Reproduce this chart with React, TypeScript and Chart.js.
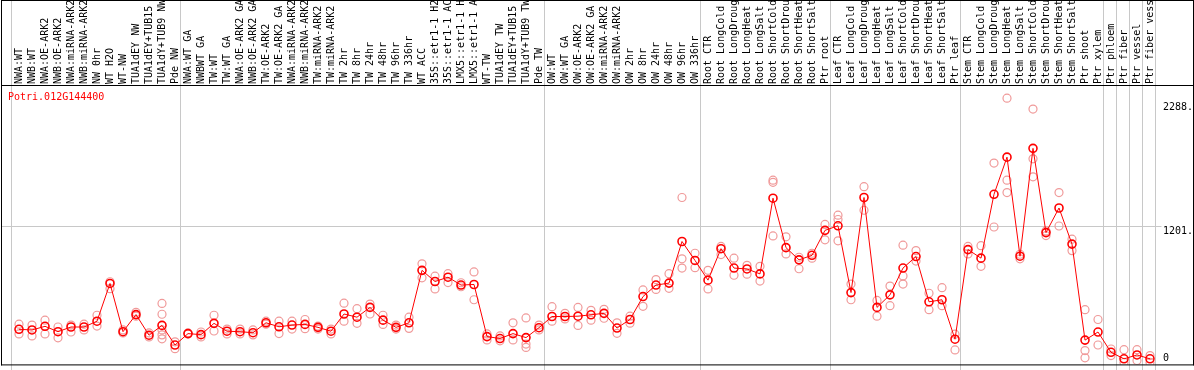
import React, { useEffect, useRef } from "react";
import { Chart, registerables } from "chart.js";

Chart.register(...registerables);

const chartTitle = "Potri.012G144400";

const categories: string[] = [
  "NWA:WT", "NWB:WT", "NWA:OE-ARK2", "NWB:OE-ARK2", "NWA:miRNA-ARK2", "NWB:miRNA-ARK2",
  "NW 0hr", "WT H2O", "WT-NW", "TUA1dEY NW", "TUA1dEY+TUB15 NW", "TUA1dY+TUB9 NW", "Pde NW",
  "NWA:WT GA", "NWBWT GA", "TW:WT", "TW:WT GA", "NWA:OE-ARK2 GA", "NWB:OE-ARK2 GA",
  "TW:OE-ARK2", "TW:OE-ARK2 GA", "NWA:miRNA-ARK2 GA", "NWB:miRNA-ARK2 GA", "TW:miRNA-ARK2",
  "TW:miRNA-ARK2", "TW 2hr", "TW 8hr", "TW 24hr", "TW 48hr", "TW 96hr", "TW 336hr", "WT ACC",
  "35S::etr1-1 H2O", "35S::etr1-1 ACC", "LMX5::etr1-1 H2O", "LMX5::etr1-1 ACC", "WT-TW",
  "TUA1dEY TW", "TUA1dEY+TUB15 TW", "TUA1dY+TUB9 TW", "Pde TW",
  "OW:WT", "OW:WT GA", "OW:OE-ARK2", "OW:OE-ARK2 GA", "OW:miRNA-ARK2", "OW:miRNA-ARK2",
  "OW 2hr", "OW 8hr", "OW 24hr", "OW 48hr", "OW 96hr", "OW 336hr",
  "Root CTR", "Root LongCold", "Root LongDrought", "Root LongHeat", "Root LongSalt",
  "Root ShortCold", "Root ShortDrought", "Root ShortHeat", "Root ShortSalt", "Ptr root",
  "Leaf CTR", "Leaf LongCold", "Leaf LongDrought", "Leaf LongHeat", "Leaf LongSalt",
  "Leaf ShortCold", "Leaf ShortDrought", "Leaf ShortHeat", "Leaf ShortSalt", "Ptr leaf",
  "Stem CTR", "Stem LongCold", "Stem LongDrought", "Stem LongHeat", "Stem LongSalt",
  "Stem ShortCold", "Stem ShortDrought", "Stem ShortHeat", "Stem ShortSalt", "Ptr shoot",
  "Ptr xylem", "Ptr phloem", "Ptr fiber", "Ptr vessel", "Ptr fiber vessel",
];

const means: number[] = [
  291, 285, 317, 270, 311, 311, 362, 693, 270, 420,
  239, 325, 153, 253, 244, 343, 274, 270, 261, 348,
  313, 328, 334, 308, 274, 425, 397, 483, 371, 308,
  348, 808, 710, 748, 679, 684, 227, 210, 253, 218,
  305, 403, 403, 406, 418, 431, 302, 377, 578, 679,
  696, 1061, 895, 722, 998, 828, 820, 777, 1441, 1007,
  900, 940, 1159, 1199, 613, 1447, 483, 593, 828, 929,
  532, 550, 204, 990, 915, 1475, 1801, 932, 1878, 1139,
  1355, 1038, 196, 267, 89, 32, 66, 32,
];

const replicates: number[][] = [
  [336, 250], [328, 233], [371, 250], [311, 216], [328, 267], [336, 285], [414, 319], [708, 647],
  [285, 259], [440, 406], [259, 224], [518, 423, 285, 242, 207], [181, 121], [259, 250], [267, 224],
  [414, 276], [293, 250], [293, 250], [285, 242], [362, 336], [362, 253], [362, 293], [377, 296],
  [319, 293], [293, 250], [520, 362], [472, 343], [512, 425], [414, 334], [328, 293], [397, 299],
  [865, 742], [757, 645], [779, 701], [699, 664], [794, 550], [198, 250], [233, 190], [348, 198],
  [391, 161, 132], [328, 285], [489, 362], [431, 382], [483, 325], [457, 371], [466, 388],
  [348, 256], [406, 345], [636, 492], [727, 641], [779, 650], [1447, 909, 828], [958, 831],
  [808, 645], [1018, 946], [915, 765], [852, 774], [843, 714], [1599, 1580, 1110], [1102, 952],
  [923, 822], [958, 915], [1211, 1076], [1292, 1254, 1067], [688, 550], [1542, 1335], [544, 406],
  [670, 498], [1029, 759, 688], [981, 889], [607, 463], [656, 498], [248, 110], [1018, 952],
  [1024, 843], [1749, 1188], [2318, 1599, 1490], [949, 909], [2223, 1786, 1628], [1154, 1113],
  [1490, 1197], [1081, 981], [463, 104, 41], [377, 153], [118, 60], [112, 0], [112, 17], [60, 0],
];

// first category index of each group (last entry = end)
const groupStarts: number[] = [0, 13, 41, 53, 63, 73, 84, 85, 86, 87, 88];

const yTickValues: number[] = [2288, 1201, 0];
const yTickLabels: string[] = ["2288.", "1201.", "0"];
const gridValues: number[] = [1201];
const yAxisMin = -17;
const yAxisMax = 2425;

const FONT = "10px 'DejaVu Sans Mono'";

const framePlugin = {
  id: "frame",
  beforeDatasetsDraw(chart: any) {
    const { ctx, scales, chartArea } = chart;
    const xs = scales.x;
    const ys = scales.y;
    ctx.save();
    ctx.fillStyle = "#c8c8c8";
    for (const v of gridValues) {
      const y = Math.round(ys.getPixelForValue(v));
      ctx.fillRect(2, y, chartArea.right + 5 - 2, 1);
    }
    for (const g of groupStarts) {
      const x = Math.round(xs.getPixelForValue(g - 0.5) - 1.5);
      ctx.fillRect(x, 0, 1, chart.height);
    }
    // category labels (rotated, reading upward, anchored above the header line)
    ctx.fillStyle = "#000";
    ctx.font = FONT;
    ctx.textAlign = "left";
    ctx.textBaseline = "alphabetic";
    categories.forEach((label, i) => {
      const x = xs.getPixelForValue(i);
      ctx.save();
      ctx.translate(Math.round(x) + 3, chartArea.top - 2);
      ctx.rotate(-Math.PI / 2);
      ctx.fillText(label, 0, 0);
      ctx.restore();
    });
    ctx.restore();
  },
  afterDraw(chart: any) {
    const { ctx, scales, chartArea } = chart;
    const ys = scales.y;
    const W = chart.width;
    ctx.save();
    ctx.fillStyle = "#000";
    ctx.fillRect(1, 0, 1, chartArea.bottom + 1);
    ctx.fillRect(W - 1, 0, 1, chartArea.bottom + 1);
    ctx.fillRect(1, 0, W - 1, 1);
    ctx.fillRect(1, chartArea.top - 1, W - 1, 1);
    ctx.fillRect(1, chartArea.bottom, W - 1, 1);

    ctx.font = FONT;
    ctx.textAlign = "left";
    ctx.textBaseline = "alphabetic";
    yTickValues.forEach((v, i) => {
      const y = ys.getPixelForValue(v);
      const base = Math.min(y + 8.5, chartArea.bottom - 3);
      ctx.fillText(yTickLabels[i], chartArea.right + 6.5, Math.round(base));
    });

    ctx.fillStyle = "#ff0000";
    ctx.fillText(chartTitle, 8, chartArea.top + 14);
    ctx.restore();
  },
};

export default function App() {
  const ref = useRef<HTMLCanvasElement>(null);
  useEffect(() => {
    document.body.style.margin = "0";
    const canvas = ref.current!;
    const meanPoints = means.map((v, i) => ({ x: i, y: v }));
    const repPoints = replicates.flatMap((arr, i) => arr.map((v) => ({ x: i, y: v })));
    const chart = new Chart(canvas, {
      type: "line",
      data: {
        datasets: [
          {
            label: "mean",
            data: meanPoints,
            borderColor: "#ff0000",
            borderWidth: 1,
            pointRadius: 4,
            pointBorderColor: "#ff0000",
            pointBorderWidth: 1.6,
            pointBackgroundColor: "rgba(0,0,0,0)",
            tension: 0,
          } as any,
          {
            type: "scatter",
            label: "replicates",
            data: repPoints,
            showLine: false,
            pointRadius: 4,
            pointBorderColor: "#f09a9a",
            pointBorderWidth: 1.2,
            pointBackgroundColor: "rgba(0,0,0,0)",
          } as any,
        ],
      },
      options: {
        responsive: false,
        animation: false,
        devicePixelRatio: 1,
        layout: { padding: { left: 12.5, right: 37.5, top: 86, bottom: 1 } },
        plugins: { legend: { display: false }, tooltip: { enabled: false }, title: { display: false } },
        scales: {
          x: {
            type: "linear",
            display: false,
            min: -0.5,
            max: categories.length - 0.5,
          },
          y: { type: "linear", display: false, min: yAxisMin, max: yAxisMax },
        },
      } as any,
      plugins: [framePlugin],
    });
    return () => chart.destroy();
  }, []);
  return <canvas ref={ref} width={1194} height={370} style={{ display: "block" }} />;
}
